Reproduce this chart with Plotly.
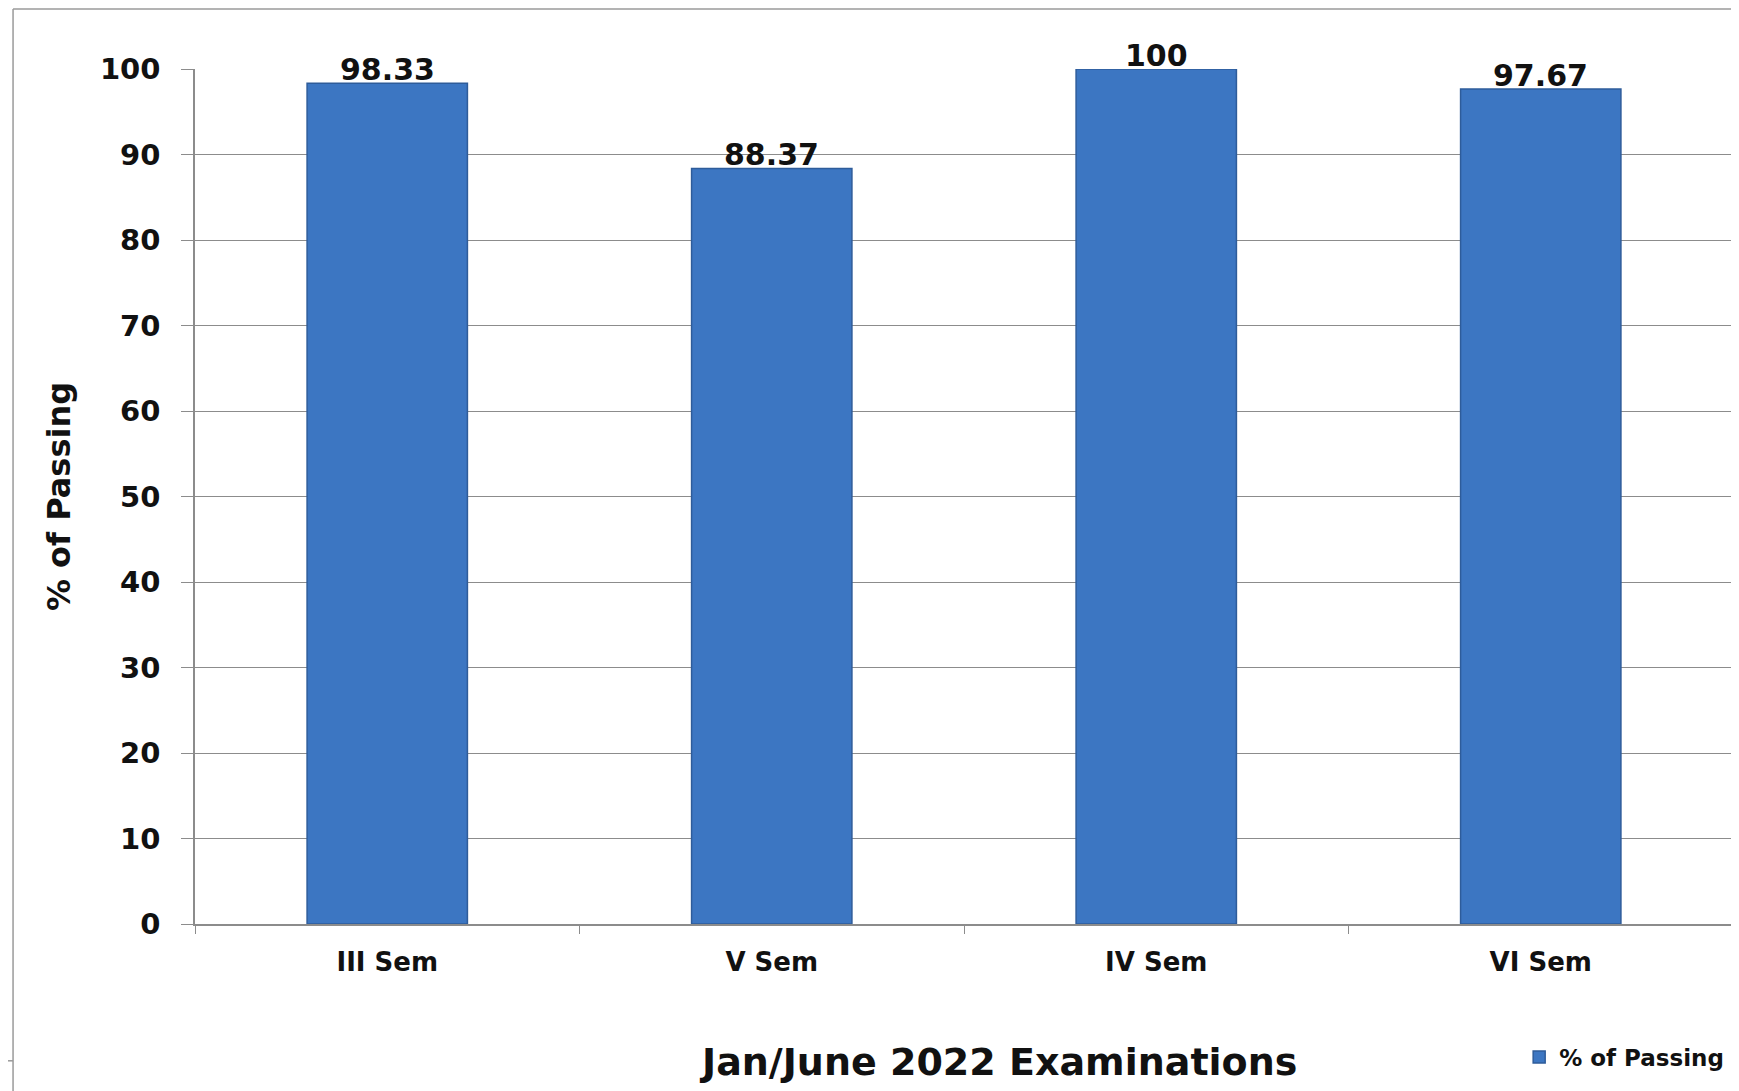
import plotly.graph_objects as go

categories = ["III Sem", "V Sem", "IV Sem", "VI Sem"]
passing = [98.33, 88.37, 100, 97.67]
labels = ["98.33", "88.37", "100", "97.67"]
y_ticks = [0, 10, 20, 30, 40, 50, 60, 70, 80, 90, 100]

FONT = "DejaVu Sans"
GRID = "#8c8c8c"
INK = "#111111"

fig = go.Figure()
fig.add_trace(go.Bar(
    x=categories, y=passing, name="% of Passing",
    marker=dict(color="#3C76C2", line=dict(color="#2E5C9A", width=1.5)),
    showlegend=True,
))

annotations = [
    dict(x=c, y=v, xref="x", yref="y", text=t, showarrow=False,
         yanchor="bottom", yshift=-6,
         font=dict(family=FONT, size=30, color=INK, weight="bold"))
    for c, v, t in zip(categories, passing, labels)
]
annotations.append(dict(
    text="Jan/June 2022 Examinations", xref="paper", yref="paper",
    x=0.522, y=-0.161, xanchor="center", yanchor="middle", showarrow=False,
    font=dict(family=FONT, size=38, color=INK, weight="bold")))

fig.update_layout(
    width=1731, height=1083,
    margin=dict(l=187, r=6, t=61, b=167, autoexpand=False),
    paper_bgcolor="white", plot_bgcolor="white",
    bargap=0.583,
    font=dict(family=FONT, color=INK),
    showlegend=True,
    legend=dict(xref="container", yref="container", x=0.873, y=0.0314,
                xanchor="left", yanchor="middle",
                font=dict(family=FONT, size=23, color=INK, weight="bold"),
                bgcolor="rgba(0,0,0,0)"),
    xaxis=dict(
        automargin=False,
        showgrid=False, showline=True, linecolor=GRID, linewidth=1.5,
        ticks="outside", tickson="boundaries", ticklen=8, tickcolor=GRID,
        ticklabelstandoff=14,
        tickfont=dict(family=FONT, size=26, color=INK, weight="bold"),
    ),
    yaxis=dict(
        automargin=False,
        range=[0, 100], tickvals=y_ticks,
        showgrid=True, gridcolor=GRID, gridwidth=1,
        showline=True, linecolor=GRID, linewidth=1.5,
        ticks="outside", ticklen=12, tickcolor=GRID,
        ticklabelstandoff=15,
        tickfont=dict(family=FONT, size=29, color=INK, weight="bold"),
        title=dict(text="% of Passing", standoff=20,
                   font=dict(family=FONT, size=32, color=INK, weight="bold")),
        zeroline=False,
    ),
    annotations=annotations,
    shapes=[
        dict(type="line", xref="paper", yref="paper", x0=-0.1183, x1=1.01,
             y0=1.0702, y1=1.0702, line=dict(color="#9a9a9a", width=1.5)),
        dict(type="line", xref="paper", yref="paper", x0=-0.1183, x1=-0.1183,
             y0=1.0702, y1=-0.2, line=dict(color="#9a9a9a", width=1.5)),
        dict(type="line", xref="paper", yref="paper", x0=-0.13, x1=-0.1183,
             y0=-0.160, y1=-0.160, line=dict(color="#9a9a9a", width=1.5)),
    ],
)

fig.write_html("out.html")
